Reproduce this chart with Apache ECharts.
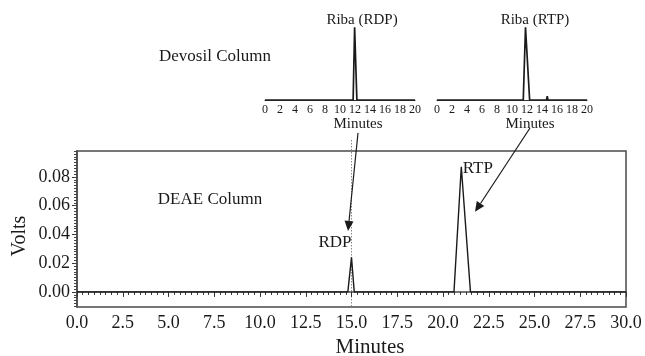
<!DOCTYPE html>
<html>
<head>
<meta charset="utf-8">
<script src="https://cdn.jsdelivr.net/npm/echarts@6/dist/echarts.min.js"></script>
<style>
  html, body { margin: 0; padding: 0; background: #fff; }
  #c { width: 645px; height: 356px; }
</style>
</head>
<body>
<div id="c"></div>
<script>
// DEAE column chromatogram (minutes vs volts)
const deaeMinutes = [0, 14.8, 15.0, 15.15, 20.6, 21.0, 21.5, 30];
const deaeVolts   = [0, 0,    0.024, 0,   0,    0.087, 0,   0];

// Devosil column insets (relative response)
const rdpMinutes = [0, 11.75, 11.95, 12.05, 12.25, 20];
const rdpSignal  = [0, 0,     0.97,  0.97,  0,     0];
const rtpMinutes = [0, 11.5, 11.8, 11.9, 12.35, 14.6, 14.7, 14.8, 20];
const rtpSignal  = [0, 0,    0.97, 0.95, 0,     0,    0.05, 0,    0];

// Axis labels
const voltTicks = [0, 0.02, 0.04, 0.06, 0.08];
const peakNames = ['RDP', 'RTP'];
const peakLabelMinutes = [14.1, 21.9];
const peakLabelVolts = [0.0345, 0.0855];

const serif = '"Liberation Serif", "DejaVu Serif", serif';
const ink = '#1a1a1a';
const frame = '#4a4a4a';

const zip = (xs, ys) => xs.map((x, i) => [x, ys[i]]);

const minorVolts = [];
for (let k = -5; k <= 49; k++) minorVolts.push(+(k * 0.002).toFixed(3));

const chart = echarts.init(document.getElementById('c'));

const insetX = (grid) => ({
  gridIndex: grid, type: 'value', min: 0, max: 20, interval: 2,
  axisLine: { lineStyle: { color: '#333', width: 1.2 } },
  axisTick: { show: false },
  splitLine: { show: false },
  axisLabel: { fontFamily: serif, fontSize: 12, color: ink, margin: 4 }
});
const insetY = (grid) => ({
  gridIndex: grid, type: 'value', min: 0, max: 1, show: false
});

chart.setOption({
  animation: false,
  grid: [
    { left: 77, right: 19, top: 151, bottom: 49, show: true,
      borderColor: frame, borderWidth: 1.5 },
    { left: 265, width: 150, top: 25, height: 75 },
    { left: 437, width: 150, top: 25, height: 75 }
  ],
  xAxis: [
    { gridIndex: 0, type: 'value', min: 0, max: 30, interval: 2.5,
      axisLine: { lineStyle: { color: frame, width: 1.5 } },
      axisTick: { length: 5, lineStyle: { color: '#333' } },
      minorTick: { show: true, splitNumber: 8, length: 3, lineStyle: { color: '#333' } },
      splitLine: { show: false },
      axisLabel: { formatter: v => v.toFixed(1), fontFamily: serif, fontSize: 18,
                   color: ink, margin: 7 } },
    insetX(1),
    insetX(2)
  ],
  yAxis: [
    { gridIndex: 0, type: 'value', min: -0.0105, max: 0.098,
      axisLine: { show: true, lineStyle: { color: frame, width: 1.5 } },
      axisTick: { show: true, length: 5, customValues: voltTicks, lineStyle: { color: '#333' } },
      splitLine: { show: false },
      axisLabel: { customValues: voltTicks, formatter: v => v.toFixed(2),
                   fontFamily: serif, fontSize: 18, color: ink, margin: 7 } },
    { gridIndex: 0, type: 'value', min: -0.0105, max: 0.098, position: 'left',
      axisLine: { show: false },
      axisTick: { show: true, length: 3, customValues: minorVolts, lineStyle: { color: '#444' } },
      axisLabel: { show: false }, splitLine: { show: false } },
    insetY(1),
    insetY(2)
  ],
  series: [
    { type: 'line', xAxisIndex: 0, yAxisIndex: 0, data: zip(deaeMinutes, deaeVolts),
      symbol: 'none', lineStyle: { color: ink, width: 1.4 } },
    { type: 'line', xAxisIndex: 1, yAxisIndex: 2, data: zip(rdpMinutes, rdpSignal),
      symbol: 'none', lineStyle: { color: ink, width: 1.7 } },
    { type: 'line', xAxisIndex: 2, yAxisIndex: 3, data: zip(rtpMinutes, rtpSignal),
      symbol: 'none', lineStyle: { color: ink, width: 1.7 } }
  ]
});

// Annotations placed from the axes' own scales
const px = (xi, yi, x, y) => chart.convertToPixel({ xAxisIndex: xi, yAxisIndex: yi }, [x, y]);

function arrow(from, to) {
  const dx = to[0] - from[0], dy = to[1] - from[1];
  const len = Math.hypot(dx, dy), ux = dx / len, uy = dy / len;
  const head = 10, half = 4.5;
  const bx = to[0] - ux * head, by = to[1] - uy * head;
  return [
    { type: 'line', shape: { x1: from[0], y1: from[1], x2: bx, y2: by },
      style: { stroke: ink, lineWidth: 1.2 } },
    { type: 'polygon', shape: { points: [to, [bx - uy * half, by + ux * half], [bx + uy * half, by - ux * half]] },
      style: { fill: ink } }
  ];
}

const text = (str, x, y, size, extra) => Object.assign({
  type: 'text', x: x, y: y,
  style: { text: str, font: size + 'px ' + serif, fill: ink, align: 'center', verticalAlign: 'middle' }
}, extra || {});

const zeroAt15 = px(0, 0, 15, -0.0105);
const rdpStart = px(1, 2, 12.4, 0); rdpStart[1] += 33;
const rtpStart = px(2, 3, 12.4, 0); rtpStart[1] += 28;
const rdpTip = px(0, 0, 14.81, 0.0424);
const rtpTip = px(0, 0, 21.75, 0.0557);

const g = [];
g.push({ type: 'line', shape: { x1: zeroAt15[0], y1: 140, x2: zeroAt15[0], y2: zeroAt15[1] },
         style: { stroke: '#888', lineWidth: 1, lineDash: [1.5, 1.5] } });
g.push(...arrow(rdpStart, rdpTip));
g.push(...arrow(rtpStart, rtpTip));

peakNames.forEach((name, i) => {
  const p = px(0, 0, peakLabelMinutes[i], peakLabelVolts[i]);
  g.push(text(name, p[0], p[1], 17));
});

g.push(text('DEAE Column', 210, 200, 17));
g.push(text('Devosil Column', 215, 57, 17));
g.push(text('Riba (RDP)', 362, 20, 15));
g.push(text('Riba (RTP)', 535, 20, 15));
g.push(text('Minutes', 358, 124, 15));
g.push(text('Minutes', 530, 124, 15));
g.push(text('Minutes', 370, 347, 21));
g.push(text('Volts', 20, 236, 20, { rotation: Math.PI / 2 }));

chart.setOption({ graphic: g });
</script>
</body>
</html>
